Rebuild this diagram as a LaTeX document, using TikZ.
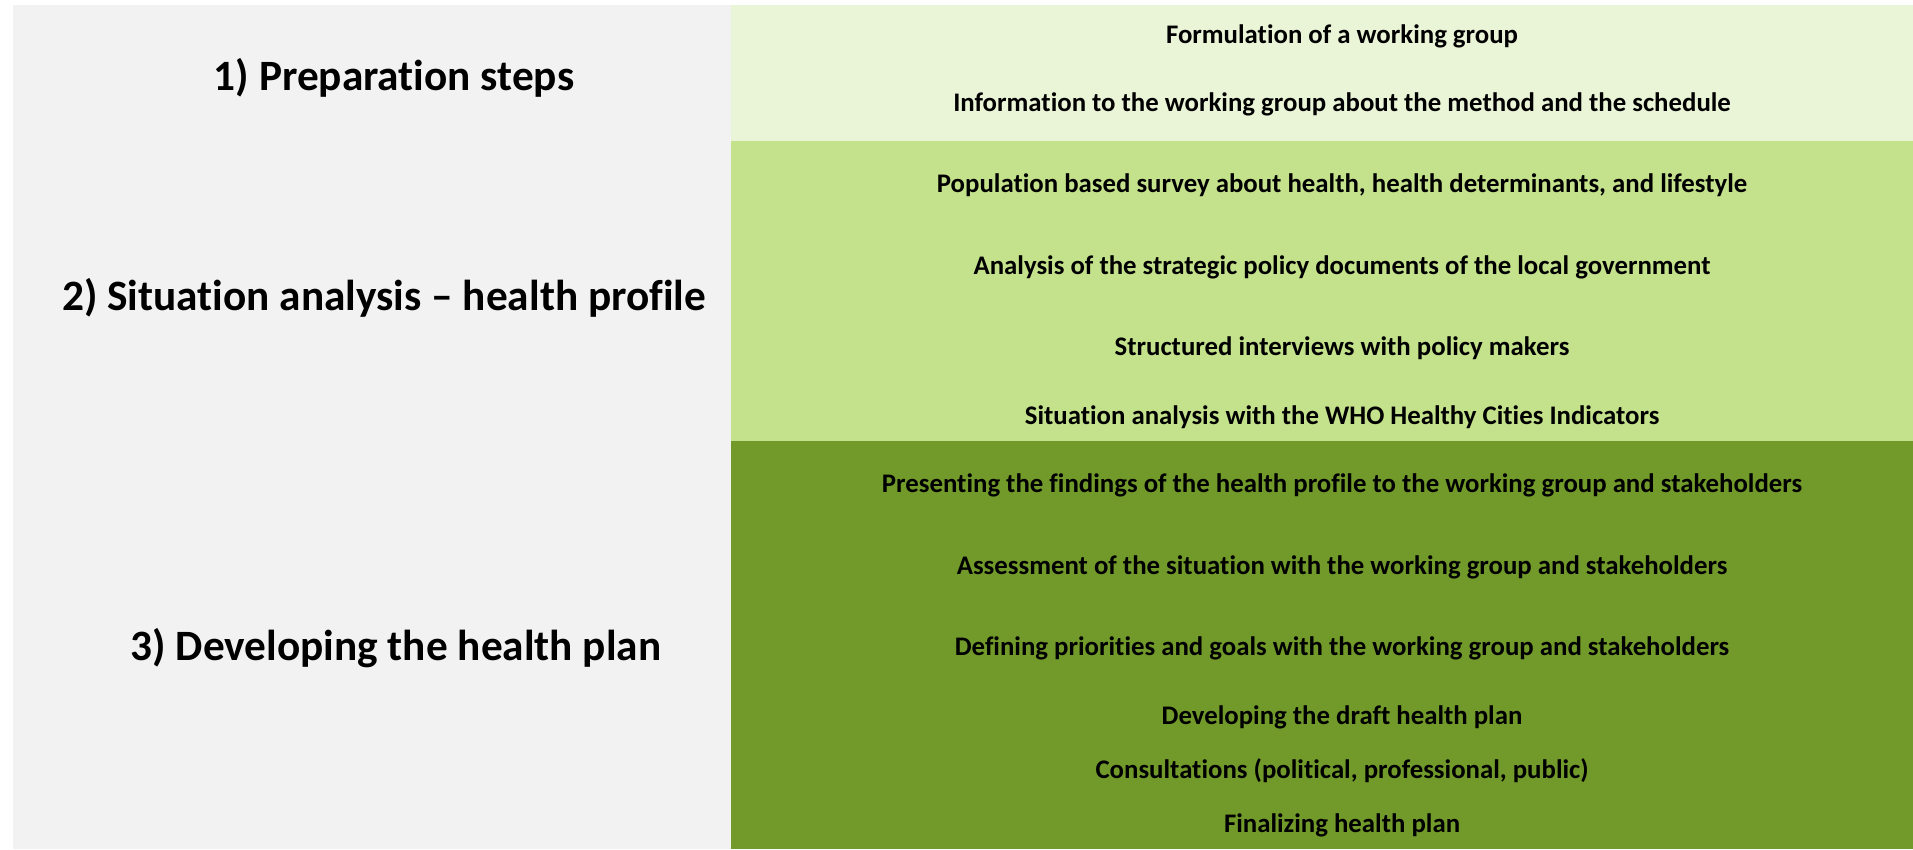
\documentclass[tikz,border=0pt]{standalone}
\usepackage{fontspec}
\setmainfont{Carlito}[Ligatures=NoCommon]
\usetikzlibrary{positioning}
\definecolor{panelgray}{HTML}{F2F2F2}
\definecolor{prepgreen}{HTML}{EAF5D8}
\definecolor{situgreen}{HTML}{C4E18B}
\definecolor{plangreen}{HTML}{729A2A}
\tikzset{
   phase/.style = {%
    anchor=center,
    inner sep=0pt,
    font=\fontsize{43.3}{43.3}\selectfont\bfseries},
   task/.style = {%
    anchor=center,
    inner sep=0pt,
    font=\fontsize{26.8}{26.8}\selectfont\bfseries},
    }

\begin{document}
\begin{tikzpicture}[x=1pt,y=-1pt]
    \useasboundingbox (0,0) rectangle (1913,849);
    \fill[white] (0,0) rectangle (1913,849);
    % panels
    \fill[panelgray] (13,5) rectangle (731,849);
    \fill[prepgreen] (731,5) rectangle (1913,141);
    \fill[situgreen] (731,141) rectangle (1913,441);
    \fill[plangreen] (731,441) rectangle (1913,849);
    % phases
    \node[phase] (prep) at (394,78)  {1) Preparation steps};
    \node[phase] (situ) at (384,298) {2) Situation analysis -- health profile};
    \node[phase] (plan) at (396,648) {3) Developing the health plan};
    % tasks
    \foreach \y/\txt [count=\i] in {
        36/{Formulation of a working group},
        104/{Information to the working group about the method and the schedule},
        185/{Population based survey about health, health determinants, and lifestyle},
        267/{Analysis of the strategic policy documents of the local government},
        348/{Structured interviews with policy makers},
        417/{Situation analysis with the WHO Healthy Cities Indicators},
        485/{Presenting the findings of the health profile to the working group and stakeholders},
        567/{Assessment of the situation with the working group and stakeholders},
        648/{Defining priorities and goals with the working group and stakeholders},
        717/{Developing the draft health plan},
        771/{Consultations (political, professional, public)},
        825/{Finalizing health plan}}
        \node[task] (t\i) at (1342,\y) {\txt};
\end{tikzpicture}
\end{document}
